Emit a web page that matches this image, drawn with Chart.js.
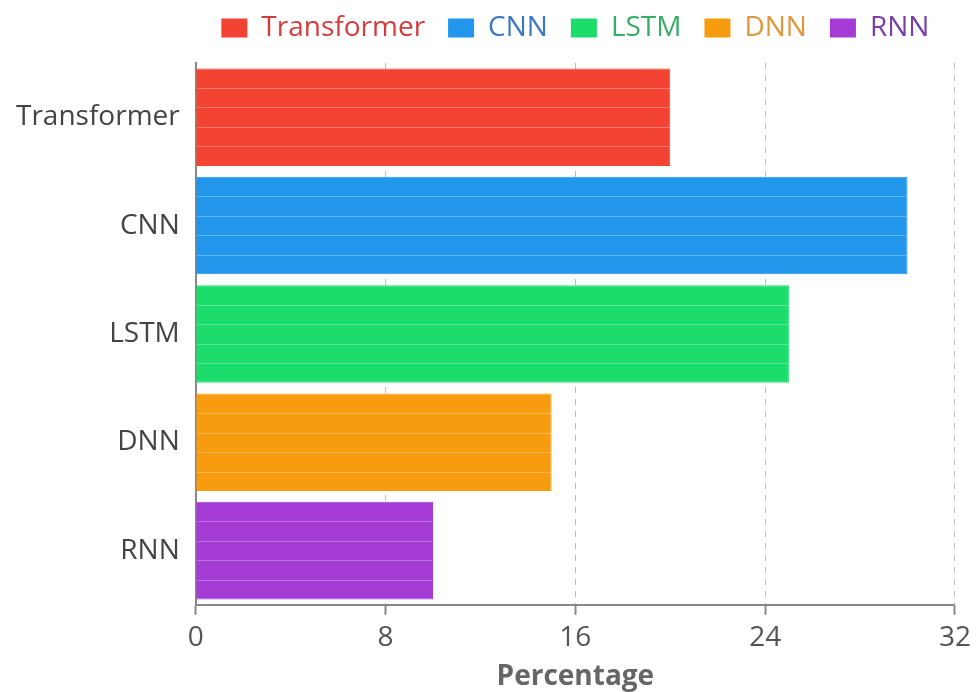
<!DOCTYPE html>
<html>
<head>
<meta charset="utf-8">
<script src="https://cdn.jsdelivr.net/npm/chart.js@4.4.0/dist/chart.umd.min.js"></script>
<style>
  html, body { margin: 0; padding: 0; background: #fff; }
  #wrap { width: 977px; height: 692px; position: relative; }
</style>
</head>
<body>
<div id="wrap"><canvas id="chart"></canvas></div>
<script>
// Data
const models = ['Transformer', 'CNN', 'LSTM', 'DNN', 'RNN'];
const percentages = [20, 30, 25, 15, 10];
const barColors = ['#f24333', '#2196ea', '#1cdd6c', '#f79c0e', '#a33bd4'];
const textColors = ['#d43c3c', '#3b78c4', '#37ad68', '#e0963a', '#7a3ea8'];

// faint stripes across each bar
const stripes = {
  id: 'stripes',
  afterDatasetsDraw(chart) {
    const ctx = chart.ctx;
    const meta = chart.getDatasetMeta(0);
    ctx.save();
    ctx.strokeStyle = 'rgba(255,255,255,0.28)';
    ctx.lineWidth = 1;
    meta.data.forEach(bar => {
      const p = bar.getProps(['x', 'y', 'base', 'height'], true);
      const top = p.y - p.height / 2;
      for (let k = 1; k < 5; k++) {
        const yy = Math.round(top + p.height * k / 5) + 0.5;
        ctx.beginPath();
        ctx.moveTo(p.base + 1, yy);
        ctx.lineTo(p.x - 1, yy);
        ctx.stroke();
      }
    });
    ctx.restore();
  }
};

// a bit more room under the legend
const legendSpace = {
  id: 'legendSpace',
  beforeInit(chart) {
    const fit = chart.legend.fit;
    chart.legend.fit = function () {
      fit.bind(chart.legend)();
      this.height += 11;
    };
  }
};

var ctx = document.getElementById('chart').getContext('2d');
var chart = new Chart(ctx, {
  type: 'bar',
  data: {
    labels: models,
    datasets: [{
      label: 'Percentage',
      data: percentages,
      backgroundColor: barColors,
      borderColor: barColors,
      borderWidth: 1,
      barPercentage: 0.9,
      categoryPercentage: 1.0
    }]
  },
  options: {
    indexAxis: 'y',
    responsive: true,
    maintainAspectRatio: false,
    animation: false,
    layout: { padding: { left: 0, right: -5, top: -9, bottom: -2 } },
    font: { family: "'Open Sans', sans-serif" },
    plugins: {
      tooltip: { enabled: false },
      legend: {
        position: 'top',
        fullSize: false,
        labels: {
          boxWidth: 26,
          boxHeight: 19,
          padding: 23,
          font: { family: "'Open Sans', sans-serif", size: 28 },
          generateLabels: (chart) => models.map((m, i) => ({
            text: m,
            fillStyle: barColors[i],
            strokeStyle: barColors[i],
            lineWidth: 0,
            fontColor: textColors[i],
            hidden: false,
            index: i
          }))
        },
        onClick: () => {}
      }
    },
    scales: {
      x: {
        min: 0,
        max: 32,
        ticks: {
          stepSize: 8,
          color: '#555',
          padding: 6,
          font: { family: "'Open Sans', sans-serif", size: 28 }
        },
        grid: {
          color: '#bdbdbd',
          lineWidth: 1,
          drawTicks: true,
          tickLength: 10,
          tickColor: '#888',
          tickWidth: 2,
          tickBorderDash: []
        },
        border: { display: true, color: '#888', width: 2, dash: [6, 6] },
        title: {
          display: true,
          text: 'Percentage',
          color: '#666',
          padding: { top: 0, bottom: 0 },
          font: { family: "'Open Sans', sans-serif", size: 28, weight: 'bold' }
        }
      },
      y: {
        ticks: {
          color: '#444',
          padding: 16,
          font: { family: "'Open Sans', sans-serif", size: 28 }
        },
        grid: { display: false, drawTicks: false },
        border: { display: true, color: '#888', width: 2 }
      }
    }
  },
  plugins: [stripes, legendSpace]
});
</script>
</body>
</html>
